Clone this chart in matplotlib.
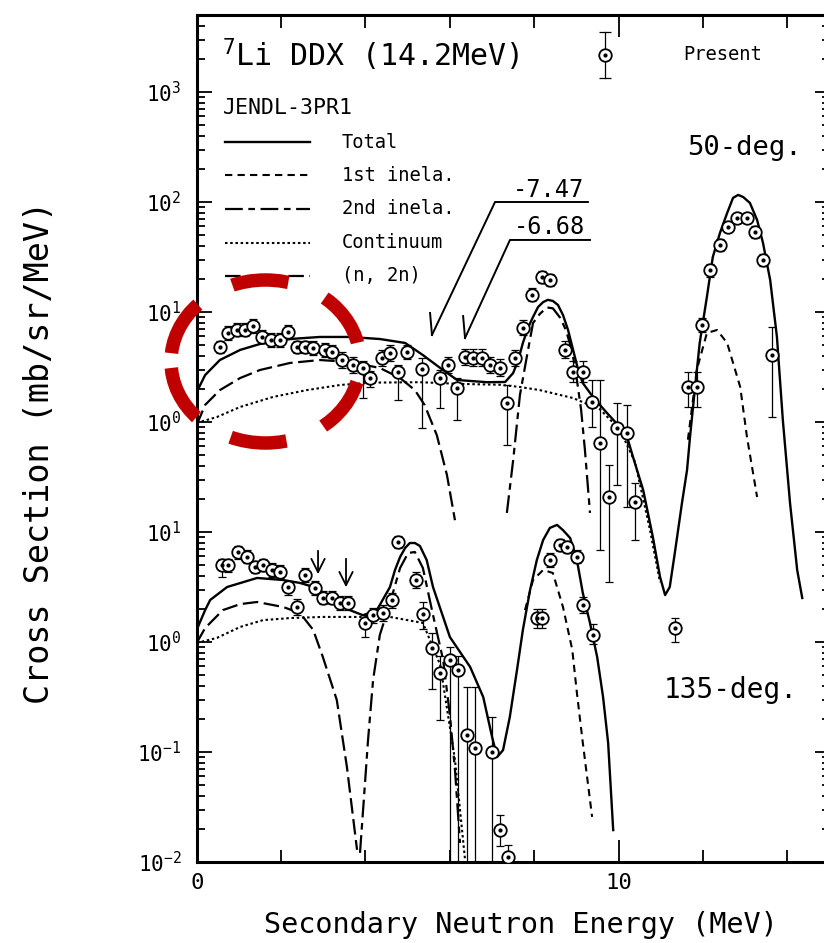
import matplotlib
matplotlib.use("Agg")
import matplotlib.pyplot as plt
from matplotlib.patches import Ellipse
from matplotlib.ticker import FixedLocator, LogLocator, NullFormatter
import numpy as np

plt.rcParams['font.family'] = ['DejaVu Sans Mono', 'DejaVu Sans']
plt.rcParams['mathtext.default'] = 'regular'

# the 50-deg. set sits two decades above the 135-deg. set on one log axis
SHIFT_50 = 100.0
SHIFT_135 = 1.0

# ---- JENDL-3PR1, 50 deg (mb/sr/MeV) ----
e50_total = [0.00, 0.20, 0.55, 1.03, 1.50, 2.21, 2.92, 3.63, 4.34, 4.94,
             5.36, 5.77, 6.17, 6.88, 7.31, 7.50, 7.62, 7.73, 7.85, 7.97,
             8.09, 8.21, 8.32, 8.44, 8.56, 8.68, 8.80, 8.92, 9.04, 9.15,
             9.39, 9.72, 10.03, 10.20, 10.34, 10.58, 10.81, 10.98, 11.10, 11.21,
             11.33, 11.50, 11.62, 11.69, 11.81, 11.92, 12.09, 12.23, 12.40, 12.57,
             12.71, 12.83, 12.95, 13.11, 13.28, 13.42, 13.59, 13.75, 13.89, 14.06,
             14.23, 14.35]
s50_total = [1.87, 2.67, 3.66, 4.52, 5.12, 5.68, 5.93, 5.93, 5.68, 5.23,
             4.06, 3.10, 2.41, 2.30, 2.31, 2.79, 3.66, 5.23, 7.16, 9.01,
             11.1, 12.3, 12.9, 12.6, 11.6, 9.39, 6.86, 4.52, 2.97, 2.26,
             1.69, 1.21, 0.90, 0.73, 0.48, 0.241, 0.090, 0.039, 0.0267, 0.0316,
             0.0644, 0.184, 0.366, 0.73, 2.08, 5.23, 13.7, 31.6, 52.3, 79.4,
             109, 116, 111, 98.0, 68.6, 42.4, 19.5, 5.93, 1.04, 0.184,
             0.0451, 0.0251]

e50_inel1 = [11.64, 11.85, 12.09, 12.33, 12.57, 12.88, 13.04, 13.28]
s50_inel1 = [0.69, 2.97, 6.44, 6.86, 5.23, 2.08, 0.73, 0.208]

e50_inel2 = [7.35, 7.50, 7.66, 7.83, 7.97, 8.13, 8.30, 8.44, 8.61, 8.75,
             8.90, 9.01, 9.11, 9.20, 9.32]
s50_inel2 = [0.149, 0.452, 1.76, 4.06, 7.94, 9.6, 11.0, 10.8, 8.9, 6.86,
             4.33, 2.41, 1.29, 0.556, 0.149]

e50_cont = [0.00, 0.48, 1.03, 1.81, 2.61, 3.40, 4.18, 5.29, 6.24, 7.19,
            7.66, 8.13, 8.92, 9.56, 10.03, 10.39, 10.74, 10.98]
s50_cont = [0.98, 1.11, 1.37, 1.69, 1.95, 2.17, 2.28, 2.30, 2.22, 2.18,
            2.08, 1.95, 1.65, 1.30, 0.85, 0.43, 0.105, 0.035]

e50_n2n = [0.00, 0.20, 0.55, 1.03, 1.50, 2.21, 2.92, 3.63, 4.34, 4.82,
           5.17, 5.40, 5.69, 5.93, 6.12]
s50_n2n = [0.94, 1.43, 1.95, 2.51, 2.97, 3.44, 3.66, 3.51, 3.10, 2.51,
           1.95, 1.43, 0.76, 0.33, 0.128]

# ---- measured, 50 deg: value and lower / upper error limits ----
e50_data = [0.55, 0.74, 0.95, 1.14, 1.33, 1.55, 1.76, 1.97, 2.16, 2.38,
            2.57, 2.76, 3.04, 3.21, 3.44, 3.70, 3.94, 4.11, 4.39, 4.58,
            4.77, 4.98, 5.34, 5.77, 5.96, 6.17, 6.36, 6.55, 6.76, 6.95,
            7.19, 7.35, 7.54, 7.73, 7.95, 8.18, 8.37, 8.73, 8.92, 9.15,
            9.37, 9.56, 9.77, 9.96, 10.20, 10.39, 11.33, 11.64, 11.85, 11.97,
            12.16, 12.40, 12.59, 12.80, 13.04, 13.23, 13.42, 13.63]
s50_data = [4.81, 6.44, 6.86, 6.86, 7.46, 5.93, 5.56, 5.56, 6.58, 4.81,
            4.81, 4.71, 4.52, 4.33, 3.66, 3.30, 3.10, 2.51, 3.82, 4.24,
            2.85, 4.33, 3.03, 2.51, 3.30, 2.04, 3.90, 3.82, 3.82, 3.30,
            3.10, 1.49, 3.82, 7.16, 14.3, 20.8, 19.5, 4.52, 2.85, 2.85,
            1.52, 0.644, 0.208, 0.88, 0.79, 0.188, 0.0134, 2.08, 2.08, 7.62,
            24.1, 40.6, 59.3, 71.6, 71.6, 53.4, 29.7, 4.06]
lo50_data = [4.2, 5.6, 6.0, 6.0, 6.5, 5.2, 4.8, 4.8, 5.7, 4.2,
             4.2, 4.1, 3.9, 3.8, 3.1, 2.8, 1.65, 2.1, 3.2, 3.6,
             1.58, 3.7, 0.88, 1.34, 2.8, 1.04, 3.3, 3.2, 3.2, 2.8,
             2.6, 0.62, 3.2, 6.2, 12.5, 18.5, 17.3, 3.8, 2.3, 2.3,
             0.9, 0.069, 0.035, 0.267, 0.168, 0.085, 0.0101, 1.37, 1.37, 6.6,
             21.0, 36.0, 53.0, 64.0, 64.0, 47.0, 26.0, 1.11]
hi50_data = [5.5, 7.4, 7.9, 7.9, 8.6, 6.8, 6.4, 6.4, 7.6, 5.5,
             5.5, 5.4, 5.2, 5.0, 4.3, 3.9, 3.6, 2.9, 4.5, 5.0,
             3.3, 5.0, 3.8, 3.0, 3.9, 2.5, 4.6, 4.6, 4.6, 3.9,
             3.7, 2.17, 4.5, 8.4, 16.5, 23.5, 22.0, 5.4, 3.6, 3.6,
             2.4, 2.41, 0.41, 1.49, 1.43, 0.279, 0.0165, 2.85, 2.85, 8.8,
             27.5, 46.0, 66.0, 80.0, 80.0, 60.0, 34.0, 7.3]

# ---- JENDL-3PR1, 135 deg ----
e135_total = [0.00, 0.20, 0.32, 0.72, 1.43, 2.05, 2.45, 2.85, 3.23, 3.63,
              3.94, 4.27, 4.58, 4.70, 4.82, 4.94, 5.05, 5.17, 5.29, 5.45,
              5.60, 6.00, 6.48, 6.79, 7.00, 7.12, 7.26, 7.42, 7.59, 7.73,
              7.90, 8.06, 8.21, 8.37, 8.54, 8.68, 8.85, 9.01, 9.15, 9.32,
              9.49, 9.63, 9.75, 9.87]
s135_total = [1.29, 1.95, 2.41, 3.16, 3.82, 3.66, 3.44, 3.10, 2.41, 1.95,
              1.75, 1.95, 3.16, 4.52, 5.93, 7.16, 7.94, 7.94, 7.46, 5.56,
              3.16, 1.11, 0.593, 0.316, 0.137, 0.090, 0.104, 0.208, 0.556, 1.29,
              2.97, 5.56, 8.46, 10.9, 11.6, 10.4, 8.82, 5.56, 2.79, 1.49,
              0.73, 0.316, 0.121, 0.0195]

e135_inel1 = [7.78, 7.97, 8.21, 8.44, 8.68, 8.90, 9.01, 9.15, 9.27, 9.37]
s135_inel1 = [1.95, 3.66, 4.52, 4.24, 2.08, 0.85, 0.344, 0.121, 0.052, 0.0257]

e135_inel2 = [3.87, 3.96, 4.06, 4.18, 4.34, 4.58, 4.82, 5.01, 5.17, 5.36,
              5.60, 5.84, 6.00, 6.12, 6.24]
s135_inel2 = [0.0121, 0.0366, 0.128, 0.452, 1.16, 2.26, 4.71, 6.44, 6.58, 4.71,
              1.76, 0.686, 0.217, 0.069, 0.0149]

e135_cont = [0.00, 0.48, 1.03, 1.57, 2.21, 2.99, 3.80, 4.58, 5.36, 5.77,
             6.12, 6.36]
s135_cont = [0.98, 1.09, 1.37, 1.58, 1.65, 1.69, 1.69, 1.69, 1.49, 0.62,
             0.085, 0.0104]

e135_n2n = [0.00, 0.20, 0.62, 1.03, 1.43, 2.05, 2.45, 2.76, 2.99, 3.32,
            3.56, 3.80]
s135_n2n = [0.98, 1.34, 1.95, 2.21, 2.31, 2.08, 1.83, 1.29, 0.73, 0.297,
            0.073, 0.0129]

# ---- measured, 135 deg ----
e135_data = [0.60, 0.74, 0.98, 1.19, 1.38, 1.57, 1.78, 1.97, 2.16, 2.38,
             2.57, 2.80, 2.99, 3.21, 3.40, 3.59, 3.99, 4.18, 4.41, 4.63,
             4.77, 5.19, 5.36, 5.58, 5.77, 6.00, 6.19, 6.40, 6.59, 7.00,
             7.19, 7.38, 8.06, 8.18, 8.37, 8.61, 8.78, 9.01, 9.15, 9.39]
s135_data = [5.01, 5.01, 6.58, 5.93, 4.81, 5.01, 4.52, 4.33, 3.16, 2.08,
             4.06, 3.10, 2.51, 2.51, 2.26, 2.26, 1.49, 1.76, 1.83, 2.41,
             8.11, 3.66, 1.80, 0.88, 0.52, 0.686, 0.556, 0.143, 0.109, 0.10,
             0.0195, 0.011, 1.65, 1.65, 5.56, 7.62, 7.30, 5.93, 2.17, 1.16]
lo135_data = [3.9, 4.3, 5.7, 5.2, 4.2, 4.4, 3.9, 3.8, 2.7, 1.75,
              3.5, 2.7, 2.2, 2.2, 1.95, 1.95, 1.11, 1.5, 1.55, 2.05,
              7.1, 3.1, 1.3, 0.37, 0.196, 0.009, 0.009, 0.009, 0.009, 0.009,
              0.014, 0.009, 1.35, 1.35, 4.8, 6.7, 6.4, 5.2, 1.85, 0.95]
hi135_data = [5.7, 5.7, 7.5, 6.8, 5.5, 5.7, 5.2, 5.0, 3.6, 2.45,
              4.7, 3.6, 2.9, 2.9, 2.6, 2.6, 1.75, 2.05, 2.15, 2.8,
              9.2, 4.3, 2.3, 1.2, 0.75, 0.9, 0.75, 0.39, 0.39, 0.208,
              0.027, 0.0143, 2.0, 2.0, 6.4, 8.7, 8.3, 6.8, 2.55, 1.45]

legend_names = ['Total', '1st inela.', '2nd inela.', 'Continuum', '(n, 2n)']

styles = {
    'Total': dict(lw=1.7),
    '1st inela.': dict(lw=1.5, dashes=(3.5, 2.5)),
    '2nd inela.': dict(lw=1.6, dashes=(8, 2.5, 3, 2.5)),
    'Continuum': dict(lw=1.5, dashes=(1.2, 1.3)),
    '(n, 2n)': dict(lw=1.6, dashes=(7, 2.5)),
}

fig = plt.figure(figsize=(8.24, 9.43), dpi=100)
ax = fig.add_axes([0.2387, 0.0859, 0.7682, 0.8982])
ax.set_yscale('log')
ax.set_xlim(0, 15)
ax.set_ylim(1e-2, 10 ** 5.70)


def curve(e, s, shift, name):
    ax.plot(e, np.asarray(s) * shift, color='black', zorder=2, **styles[name])


def points(e, s, lo, hi, shift):
    s = np.asarray(s) * shift
    lo = np.asarray(lo) * shift
    hi = np.asarray(hi) * shift
    ax.errorbar(e, s, yerr=[s - lo, hi - s], fmt='none', ecolor='black',
                elinewidth=0.9, capsize=3, capthick=0.9, zorder=3)
    ax.plot(e, s, 'o', ms=9, mfc='white', mec='black', mew=1.3, zorder=4)
    ax.plot(e, s, 'o', ms=2, color='black', zorder=5)


curve(e50_total, s50_total, SHIFT_50, 'Total')
curve(e50_inel1, s50_inel1, SHIFT_50, '1st inela.')
curve(e50_inel2, s50_inel2, SHIFT_50, '2nd inela.')
curve(e50_cont, s50_cont, SHIFT_50, 'Continuum')
curve(e50_n2n, s50_n2n, SHIFT_50, '(n, 2n)')
points(e50_data, s50_data, lo50_data, hi50_data, SHIFT_50)

curve(e135_total, s135_total, SHIFT_135, 'Total')
curve(e135_inel1, s135_inel1, SHIFT_135, '1st inela.')
curve(e135_inel2, s135_inel2, SHIFT_135, '2nd inela.')
curve(e135_cont, s135_cont, SHIFT_135, 'Continuum')
curve(e135_n2n, s135_n2n, SHIFT_135, '(n, 2n)')
points(e135_data, s135_data, lo135_data, hi135_data, SHIFT_135)

# axes, ticks and the two-panel decade labels
for sp in ax.spines.values():
    sp.set_linewidth(2.2)
ax.set_xticks([0, 10])
ax.set_xticklabels(['0', '10'])
ax.xaxis.set_minor_locator(FixedLocator([2, 4, 6, 8, 12, 14]))
ax.set_yticks([1e-2, 1e-1, 1e0, 1e1, 1e2, 1e3, 1e4, 1e5])
ax.set_yticklabels(['$10^{-2}$', '$10^{-1}$', '$10^{0}$', '$10^{1}$',
                    '$10^{0}$', '$10^{1}$', '$10^{2}$', '$10^{3}$'])
ax.yaxis.set_minor_locator(LogLocator(base=10, subs=np.arange(2, 10), numticks=30))
ax.yaxis.set_minor_formatter(NullFormatter())
ax.tick_params(which='both', direction='in', top=True, right=True, width=1.3)
ax.tick_params(axis='x', which='major', length=16, labelsize=16, pad=8)
ax.tick_params(axis='x', which='minor', length=9)
ax.tick_params(axis='y', which='major', length=11, labelsize=15, pad=11)
ax.tick_params(axis='y', which='minor', length=6)

fig.text(0.632, 0.019, 'Secondary Neutron Energy (MeV)', fontsize=20.5,
         ha='center', va='center')
fig.text(0.0485, 0.5207, 'Cross Section (mb/sr/MeV)', fontsize=24,
         rotation=90, ha='center', va='center')

# header, legend and panel tags
ax.text(0.040, 0.953, r'$^7$Li DDX (14.2MeV)', transform=ax.transAxes,
        fontsize=21.5, ha='left', va='center')
ax.text(0.0415, 0.890, 'JENDL-3PR1', transform=ax.transAxes,
        fontsize=15.5, ha='left', va='center')
legend_y = [0.850, 0.811, 0.771, 0.731, 0.692]
for name, y in zip(legend_names, legend_y):
    ax.plot([0.0447, 0.179], [y, y], color='black', transform=ax.transAxes,
            clip_on=False, **styles[name])
    ax.text(0.2295, y, name, transform=ax.transAxes, fontsize=13.5,
            ha='left', va='center')

ax.plot([0.645, 0.645], [0.926, 0.980], color='black', lw=0.9,
        transform=ax.transAxes)
ax.plot([0.645, 0.645], [0.926, 0.980], '_', ms=8, mew=0.9, color='black',
        transform=ax.transAxes)
ax.plot([0.645], [0.953], 'o', ms=9, mfc='white', mec='black', mew=1.3,
        transform=ax.transAxes)
ax.plot([0.645], [0.953], 'o', ms=2, color='black', transform=ax.transAxes)
ax.text(0.768, 0.953, 'Present', transform=ax.transAxes, fontsize=13.5,
        ha='left', va='center')

ax.text(0.775, 0.843, '50-deg.', transform=ax.transAxes, fontsize=19.5,
        ha='left', va='center')
ax.text(0.737, 0.203, '135-deg.', transform=ax.transAxes, fontsize=20,
        ha='left', va='center')

# level markers (-7.47 / -6.68 MeV) on the 50-deg. spectrum
for label, tip, start, end_x, txt in [
        ('-7.47', (0.3717, 0.6222), (0.4713, 0.7792), 0.618, (0.555, 0.7934)),
        ('-6.68', (0.4239, 0.6186), (0.4949, 0.7344), 0.6213, (0.5581, 0.7497))]:
    ax.plot([tip[0], start[0], end_x], [tip[1], start[1], start[1]],
            color='black', lw=1.4, transform=ax.transAxes)
    ax.plot([tip[0], tip[0] - 0.003], [tip[1], tip[1] + 0.026],
            color='black', lw=1.4, transform=ax.transAxes)
    ax.text(txt[0], txt[1], label, transform=ax.transAxes, fontsize=17,
            ha='center', va='center')

# arrows on the 135-deg. spectrum
for x, y0, y1 in [(0.1917, 0.3707, 0.3365), (0.2359, 0.3613, 0.3211)]:
    ax.annotate('', xy=(x, y1), xytext=(x, y0), xycoords='axes fraction',
                arrowprops=dict(arrowstyle='->', lw=1.3, color='black',
                                mutation_scale=24))

# red highlight ring (inches); turned so the dash pattern starts at its
# left-most point and runs downwards
ring = Ellipse((2.655, 5.815), 1.63, 1.89, angle=-90,
               transform=fig.dpi_scale_trans, fill=False, edgecolor='#c00000',
               lw=9.7, linestyle=(6.68, (4.2, 2.96)), zorder=10)
fig.add_artist(ring)

fig.savefig('out.png', dpi=100)
